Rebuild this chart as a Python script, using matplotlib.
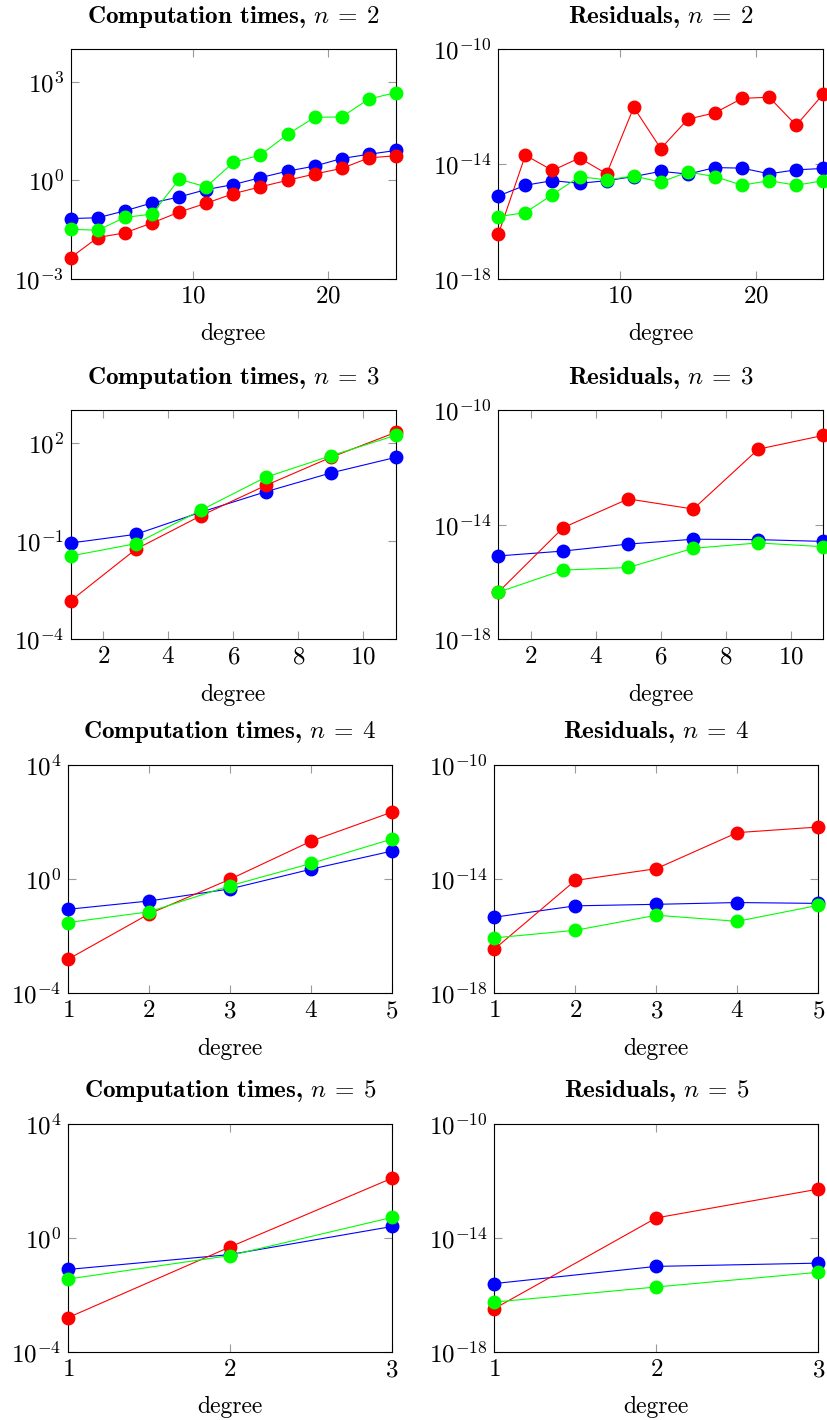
import matplotlib
matplotlib.use('Agg')
import matplotlib.pyplot as plt
from matplotlib.ticker import FixedLocator, NullLocator

plt.rcParams['font.family'] = 'cmr10'
plt.rcParams['mathtext.fontset'] = 'cm'
plt.rcParams['axes.formatter.use_mathtext'] = True

# degrees per n
deg_n2 = [1, 3, 5, 7, 9, 11, 13, 15, 17, 19, 21, 23, 25]
deg_n3 = [1, 3, 5, 7, 9, 11]
deg_n4 = [1, 2, 3, 4, 5]
deg_n5 = [1, 2, 3]

# computation times
time_n2_blue = [0.068, 0.072, 0.117, 0.204, 0.31, 0.52, 0.74, 1.2, 1.9, 2.7, 4.6, 6.2, 8.1]
time_n2_red = [4.4e-3, 1.8e-2, 2.5e-2, 5.0e-2, 0.107, 0.20, 0.39, 0.63, 1.0, 1.55, 2.3, 4.8, 5.6]
time_n2_green = [0.032, 0.030, 0.074, 0.093, 1.07, 0.63, 3.5, 5.9, 25, 83, 85, 300, 470]

time_n3_blue = [0.087, 0.16, 0.76, 3.2, 12, 36]
time_n3_red = [1.5e-3, 0.056, 0.59, 5.0, 36, 209]
time_n3_green = [0.035, 0.083, 0.87, 8.9, 40, 170]

time_n4_blue = [0.087, 0.17, 0.45, 2.2, 9.5]
time_n4_red = [1.55e-3, 0.060, 0.98, 21, 220]
time_n4_green = [0.030, 0.071, 0.58, 3.5, 25]

time_n5_blue = [0.078, 0.26, 2.5]
time_n5_red = [1.6e-3, 0.48, 123]
time_n5_green = [0.036, 0.24, 5.2]

# residuals
res_n2_blue = [7.6e-16, 1.8e-15, 2.6e-15, 2.1e-15, 2.6e-15, 3.6e-15, 5.5e-15, 4.4e-15, 7.4e-15, 7.1e-15, 4.5e-15, 6.2e-15, 6.9e-15]
res_n2_red = [3.5e-17, 2.0e-14, 5.9e-15, 1.6e-14, 4.5e-15, 9.3e-13, 3.4e-14, 3.6e-13, 6.0e-13, 1.9e-12, 2.1e-12, 2.2e-13, 2.7e-12]
res_n2_green = [1.45e-16, 2.0e-16, 8.5e-16, 3.6e-15, 2.75e-15, 3.8e-15, 2.3e-15, 5.2e-15, 3.6e-15, 1.8e-15, 2.6e-15, 1.8e-15, 2.6e-15]

res_n3_blue = [8.1e-16, 1.2e-15, 2.1e-15, 3.1e-15, 3.0e-15, 2.6e-15]
res_n3_red = [4.4e-17, 7.9e-15, 7.9e-14, 3.5e-14, 4.3e-12, 1.3e-11]
res_n3_green = [4.4e-17, 2.6e-16, 3.2e-16, 1.5e-15, 2.3e-15, 1.7e-15]

res_n4_blue = [4.6e-16, 1.15e-15, 1.3e-15, 1.5e-15, 1.4e-15]
res_n4_red = [3.5e-17, 8.9e-15, 2.3e-14, 4.2e-13, 6.6e-13]
res_n4_green = [8.7e-17, 1.6e-16, 5.4e-16, 3.3e-16, 1.2e-15]

res_n5_blue = [2.5e-16, 1.0e-15, 1.3e-15]
res_n5_red = [3.3e-17, 5.0e-14, 5.1e-13]
res_n5_green = [5.6e-17, 1.9e-16, 6.2e-16]

W, H = 827, 1420
fig = plt.figure(figsize=(W / 100, H / 100), dpi=100)


def make_axes(left, right, top, bottom):
    return fig.add_axes([left / W, 1 - bottom / H, (right - left) / W, (bottom - top) / H])


def draw(ax, x, blue, red, green, title, ylim, yticks, xticks):
    # blue first, green ends up on top
    for ys, c in [(blue, (0, 0, 1)), (red, (1, 0, 0)), (green, (0, 1, 0))]:
        ax.plot(x, ys, '-o', color=c, lw=0.8, ms=9, clip_on=False, zorder=3)
    ax.set_yscale('log')
    ax.set_xlim(x[0], x[-1])
    ax.set_ylim(*ylim)
    ax.yaxis.set_major_locator(FixedLocator(yticks))
    ax.yaxis.set_minor_locator(NullLocator())
    ax.set_xticks(xticks)
    ax.tick_params(direction='in', length=6, width=0.8, color='#9a9a9a',
                   top=True, right=True, labelsize=18, pad=5)
    for s in ax.spines.values():
        s.set_linewidth(0.8)
    ax.set_title(title, fontfamily='cmb10', fontsize=18, pad=19)
    ax.set_xlabel('degree', fontsize=17, labelpad=11)


rows = [
    (49, 278.7, 70.7, 396, 498.3, 823.3),
    (410, 639.3, 70.7, 396, 498.3, 823.3),
    (764.7, 993.3, 68, 392, 494.3, 818.3),
    (1123.7, 1352, 68, 392, 494.3, 818.3),
]

ax = make_axes(rows[0][2], rows[0][3], rows[0][0], rows[0][1])
draw(ax, deg_n2, time_n2_blue, time_n2_red, time_n2_green, r'Computation times, $n\:=\:2$',
     (1e-3, 1e4), [1e-3, 1e0, 1e3], [10, 20])
ax = make_axes(rows[0][4], rows[0][5], rows[0][0], rows[0][1])
draw(ax, deg_n2, res_n2_blue, res_n2_red, res_n2_green, r'Residuals, $n\:=\:2$',
     (1e-18, 1e-10), [1e-18, 1e-14, 1e-10], [10, 20])

ax = make_axes(rows[1][2], rows[1][3], rows[1][0], rows[1][1])
draw(ax, deg_n3, time_n3_blue, time_n3_red, time_n3_green, r'Computation times, $n\:=\:3$',
     (1e-4, 1e3), [1e-4, 1e-1, 1e2], [2, 4, 6, 8, 10])
ax = make_axes(rows[1][4], rows[1][5], rows[1][0], rows[1][1])
draw(ax, deg_n3, res_n3_blue, res_n3_red, res_n3_green, r'Residuals, $n\:=\:3$',
     (1e-18, 1e-10), [1e-18, 1e-14, 1e-10], [2, 4, 6, 8, 10])

ax = make_axes(rows[2][2], rows[2][3], rows[2][0], rows[2][1])
draw(ax, deg_n4, time_n4_blue, time_n4_red, time_n4_green, r'Computation times, $n\:=\:4$',
     (1e-4, 1e4), [1e-4, 1e0, 1e4], [1, 2, 3, 4, 5])
ax = make_axes(rows[2][4], rows[2][5], rows[2][0], rows[2][1])
draw(ax, deg_n4, res_n4_blue, res_n4_red, res_n4_green, r'Residuals, $n\:=\:4$',
     (1e-18, 1e-10), [1e-18, 1e-14, 1e-10], [1, 2, 3, 4, 5])

ax = make_axes(rows[3][2], rows[3][3], rows[3][0], rows[3][1])
draw(ax, deg_n5, time_n5_blue, time_n5_red, time_n5_green, r'Computation times, $n\:=\:5$',
     (1e-4, 1e4), [1e-4, 1e0, 1e4], [1, 2, 3])
ax = make_axes(rows[3][4], rows[3][5], rows[3][0], rows[3][1])
draw(ax, deg_n5, res_n5_blue, res_n5_red, res_n5_green, r'Residuals, $n\:=\:5$',
     (1e-18, 1e-10), [1e-18, 1e-14, 1e-10], [1, 2, 3])

fig.savefig('out.png', dpi=100)
